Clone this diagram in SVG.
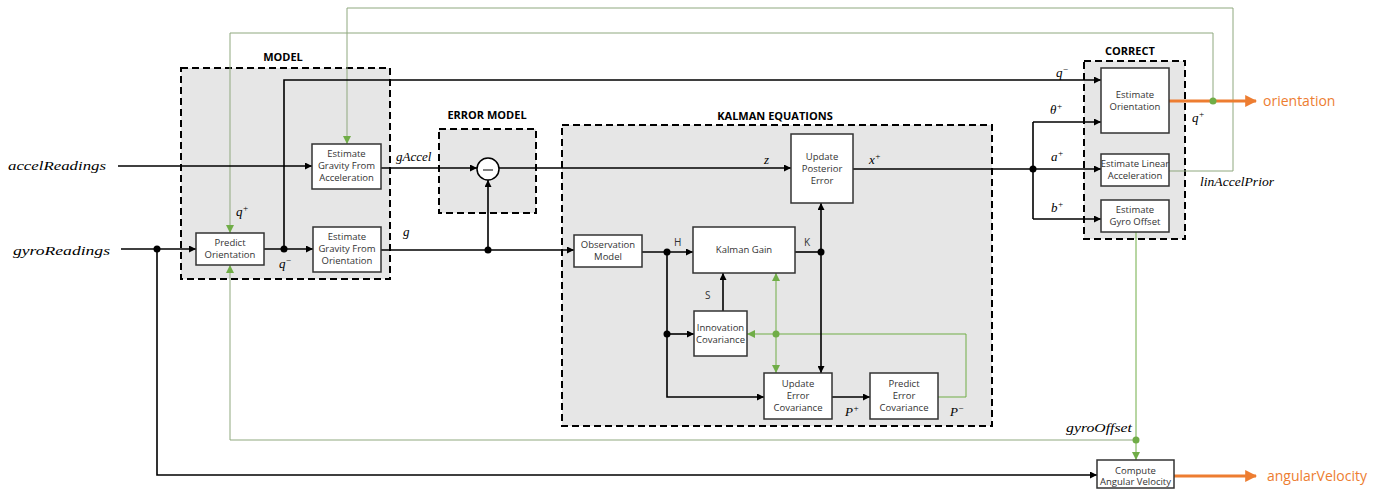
<svg xmlns="http://www.w3.org/2000/svg" width="1375" height="489" viewBox="0 0 1375 489">
<defs>
<marker id="ab" viewBox="0 0 10 10" refX="10" refY="5" markerWidth="7" markerHeight="7" markerUnits="userSpaceOnUse" orient="auto"><path d="M0,0 L10,5 L0,10 z" fill="#000"/></marker>
<marker id="ag" viewBox="0 0 10 10" refX="10" refY="5" markerWidth="8" markerHeight="8" markerUnits="userSpaceOnUse" orient="auto"><path d="M0,0 L10,5 L0,10 z" fill="#70AD47"/></marker>
<marker id="ao" viewBox="0 0 10 10" refX="9" refY="5" markerWidth="12" markerHeight="12" markerUnits="userSpaceOnUse" orient="auto"><path d="M0,0 L10,5 L0,10 z" fill="#ED7D31"/></marker>
</defs>
<style>
.grp{fill:#e6e6e6;stroke:#000;stroke-width:2;stroke-dasharray:7,4}
.box{fill:#fff;stroke:#333;stroke-width:1.5}
.bt{font-family:"Open Sans","Noto Sans",sans-serif;font-size:9.5px;fill:#333;text-anchor:middle}
.ttl{font-family:"Open Sans","Noto Sans",sans-serif;font-size:11px;font-weight:bold;fill:#000;text-anchor:middle}
.m{font-family:"Liberation Serif",serif;font-style:italic;font-size:13px;fill:#000}
.s{font-family:"Open Sans","Noto Sans",sans-serif;font-size:10px;fill:#333}
.bl{fill:none;stroke:#000;stroke-width:1.6}
.gl{fill:none;stroke:#70AD47;stroke-width:1}
.gl2{fill:none;stroke:#8FA87E;stroke-width:1}
.ol{fill:none;stroke:#ED7D31;stroke-width:3}
.out{font-family:"Open Sans","Noto Sans",sans-serif;font-size:14px;fill:#ED7D31}
</style>

<g id="group-model"><rect class="grp" x="181" y="68" width="209" height="211"/><text class="ttl" x="283" y="61">MODEL</text></g>
<g id="group-error"><rect class="grp" x="439" y="129" width="97" height="84"/><text class="ttl" x="487" y="119">ERROR MODEL</text></g>
<g id="group-kalman"><rect class="grp" x="562" y="125" width="430" height="301"/><text class="ttl" x="775" y="120">KALMAN EQUATIONS</text></g>
<g id="group-correct"><rect class="grp" x="1084" y="61" width="101" height="178"/><text class="ttl" x="1130" y="55">CORRECT</text></g>

<g id="connectors">
<polyline class="gl2" points="1213,101 1213,33 230,33 230,233" marker-end="url(#ag)"/>
<polyline class="gl2" points="1169,171 1233,171 1233,8 347,8 347,144" marker-end="url(#ag)"/>
<polyline class="gl" points="1136,232 1136,460" marker-end="url(#ag)"/>
<polyline class="gl2" points="1136,440 230,440 230,265" marker-end="url(#ag)"/>
<polyline class="gl" points="938,397 966,397 966,334 747,334" marker-end="url(#ag)"/>
<polyline class="gl" points="776,334 776,273" marker-end="url(#ag)"/>
<polyline class="gl" points="776,334 776,373" marker-end="url(#ag)"/>
<polyline class="bl" points="118,166 312,166" marker-end="url(#ab)"/>
<polyline class="bl" points="121,249 196,249" marker-end="url(#ab)"/>
<polyline class="bl" points="157,249 157,475 1097,475" marker-end="url(#ab)"/>
<polyline class="bl" points="264,249 313,249" marker-end="url(#ab)"/>
<polyline class="bl" points="284,249 284,80 1101,80" marker-end="url(#ab)"/>
<polyline class="bl" points="381,168 477,168" marker-end="url(#ab)"/>
<polyline class="bl" points="381,250 574,250" marker-end="url(#ab)"/>
<polyline class="bl" points="488,250 488,180" marker-end="url(#ab)"/>
<polyline class="bl" points="499,168 791,168" marker-end="url(#ab)"/>
<polyline class="bl" points="853,169 1033,169 1101,169" marker-end="url(#ab)"/>
<polyline class="bl" points="1033,122 1033,219"/>
<polyline class="bl" points="1033,122 1101,122" marker-end="url(#ab)"/>
<polyline class="bl" points="1033,219 1101,219" marker-end="url(#ab)"/>
<polyline class="bl" points="642,252 693,252" marker-end="url(#ab)"/>
<polyline class="bl" points="667,252 667,397 764,397" marker-end="url(#ab)"/>
<polyline class="bl" points="667,334 694,334" marker-end="url(#ab)"/>
<polyline class="bl" points="795,252 821,252"/>
<polyline class="bl" points="821,252 821,203" marker-end="url(#ab)"/>
<polyline class="bl" points="821,252 821,373" marker-end="url(#ab)"/>
<polyline class="bl" points="723,311 723,273" marker-end="url(#ab)"/>
<polyline class="bl" points="832,397 870,397" marker-end="url(#ab)"/>
<polyline class="ol" points="1169,101 1256,101" marker-end="url(#ao)"/>
<polyline class="ol" points="1174,476 1256,476" marker-end="url(#ao)"/>
<g fill="#000">
<circle cx="157" cy="249" r="3.5"/><circle cx="284" cy="249" r="3.5"/><circle cx="488" cy="250" r="3.5"/>
<circle cx="667" cy="252" r="3.5"/><circle cx="667" cy="334" r="3.5"/><circle cx="821" cy="252" r="3.5"/>
<circle cx="1033" cy="169" r="3.5"/>
</g>
<g fill="#70AD47">
<circle cx="1213" cy="101" r="3.5"/><circle cx="1136" cy="440" r="3.5"/><circle cx="776" cy="334" r="3.5"/>
</g>
</g>

<g id="sum"><circle cx="488" cy="169" r="11" fill="#fff" stroke="#000" stroke-width="1.5"/><line x1="483" y1="170" x2="493" y2="170" stroke="#000" stroke-width="1"/></g>

<g id="predict-orientation"><rect class="box" x="196" y="233" width="68" height="32"/><text class="bt" x="230" y="246">Predict</text><text class="bt" x="230" y="258">Orientation</text></g>
<g id="est-grav-accel"><rect class="box" x="312" y="144" width="69" height="45"/><text class="bt" x="346.5" y="157">Estimate</text><text class="bt" x="346.5" y="169">Gravity From</text><text class="bt" x="346.5" y="181">Acceleration</text></g>
<g id="est-grav-orient"><rect class="box" x="313" y="227" width="68" height="45"/><text class="bt" x="347" y="240">Estimate</text><text class="bt" x="347" y="252">Gravity From</text><text class="bt" x="347" y="264">Orientation</text></g>
<g id="update-posterior"><rect class="box" x="791" y="134" width="62" height="69"/><text class="bt" x="822" y="160">Update</text><text class="bt" x="822" y="172">Posterior</text><text class="bt" x="822" y="184">Error</text></g>
<g id="observation-model"><rect class="box" x="574" y="235" width="68" height="32"/><text class="bt" x="608" y="248">Observation</text><text class="bt" x="608" y="260">Model</text></g>
<g id="kalman-gain"><rect class="box" x="693" y="227" width="102" height="46"/><text class="bt" x="744" y="253">Kalman Gain</text></g>
<g id="innovation-cov"><rect class="box" x="694" y="311" width="53" height="45"/><text class="bt" x="720.5" y="331">Innovation</text><text class="bt" x="720.5" y="343">Covariance</text></g>
<g id="update-error-cov"><rect class="box" x="764" y="373" width="68" height="46"/><text class="bt" x="798" y="387">Update</text><text class="bt" x="798" y="399">Error</text><text class="bt" x="798" y="411">Covariance</text></g>
<g id="predict-error-cov"><rect class="box" x="870" y="373" width="68" height="46"/><text class="bt" x="904" y="387">Predict</text><text class="bt" x="904" y="399">Error</text><text class="bt" x="904" y="411">Covariance</text></g>
<g id="est-orientation"><rect class="box" x="1101" y="68" width="68" height="65"/><text class="bt" x="1135" y="98">Estimate</text><text class="bt" x="1135" y="110">Orientation</text></g>
<g id="est-lin-accel"><rect class="box" x="1101" y="154" width="68" height="32"/><text class="bt" x="1135" y="167">Estimate Linear</text><text class="bt" x="1135" y="179">Acceleration</text></g>
<g id="est-gyro-offset"><rect class="box" x="1101" y="200" width="68" height="32"/><text class="bt" x="1135" y="213">Estimate</text><text class="bt" x="1135" y="225">Gyro Offset</text></g>
<g id="compute-ang-vel"><rect class="box" x="1097" y="460" width="77" height="28"/><text class="bt" x="1135.5" y="474">Compute</text><text class="bt" x="1135.5" y="485">Angular Velocity</text></g>

<g id="labels">
<text class="m" x="8" y="170" font-size="15" textLength="98" lengthAdjust="spacingAndGlyphs">accelReadings</text>
<text class="m" x="13" y="255" font-size="15" textLength="97" lengthAdjust="spacingAndGlyphs">gyroReadings</text>
<text class="m" x="236" y="216">q<tspan dy="-5" font-size="9">+</tspan></text>
<text class="m" x="279" y="268">q<tspan dy="-5" font-size="9">−</tspan></text>
<text class="m" x="396" y="161">gAccel</text>
<text class="m" x="403" y="236">g</text>
<text class="m" x="764" y="164">z</text>
<text class="m" x="869" y="164">x<tspan dy="-5" font-size="9">+</tspan></text>
<text class="s" x="674" y="246">H</text>
<text class="s" x="804" y="246">K</text>
<text class="s" x="705" y="299">S</text>
<text class="m" x="845" y="416">P<tspan dy="-5" font-size="9">+</tspan></text>
<text class="m" x="950" y="416">P<tspan dy="-5" font-size="9">−</tspan></text>
<text class="m" x="1056" y="77">q<tspan dy="-5" font-size="9">−</tspan></text>
<text class="m" x="1050" y="114">θ<tspan dy="-5" font-size="9">+</tspan></text>
<text class="m" x="1051" y="161">a<tspan dy="-5" font-size="9">+</tspan></text>
<text class="m" x="1051" y="212">b<tspan dy="-5" font-size="9">+</tspan></text>
<text class="m" x="1192" y="122">q<tspan dy="-5" font-size="9">+</tspan></text>
<text class="m" x="1200" y="186" textLength="74" lengthAdjust="spacingAndGlyphs">linAccelPrior</text>
<text class="m" x="1066" y="432" textLength="66" lengthAdjust="spacingAndGlyphs">gyroOffset</text>
<text class="out" x="1263" y="106">orientation</text>
<text class="out" x="1267" y="481">angularVelocity</text>
</g>
</svg>
